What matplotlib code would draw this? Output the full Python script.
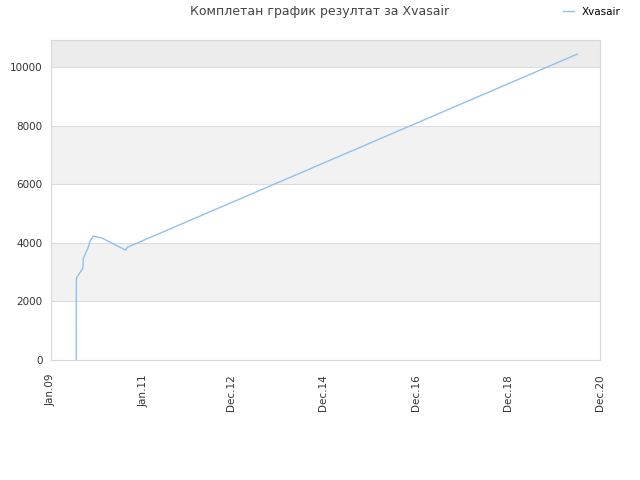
import matplotlib
matplotlib.use("Agg")
import matplotlib.pyplot as plt
import matplotlib.dates as mdates
import numpy as np
from datetime import datetime

# values
dates = [datetime(2009, 7, 20), datetime(2009, 7, 21), datetime(2009, 7, 22),
         datetime(2009, 9, 10), datetime(2009, 9, 14), datetime(2009, 10, 20),
         datetime(2009, 11, 5), datetime(2009, 12, 1), datetime(2010, 2, 15),
         datetime(2010, 8, 15), datetime(2010, 8, 28), datetime(2020, 6, 5)]
scores = [0, 2650, 2800, 3130, 3470, 3810, 4040, 4230, 4150, 3750, 3845, 10440]
tick_dates = [datetime(2009, 1, 1), datetime(2011, 1, 1), datetime(2012, 12, 1),
              datetime(2014, 12, 1), datetime(2016, 12, 1), datetime(2018, 12, 1),
              datetime(2020, 12, 1)]
tick_labels = ["Jan.09", "Jan.11", "Dec.12", "Dec.14", "Dec.16", "Dec.18", "Dec.20"]
y_ticks = [0, 2000, 4000, 6000, 8000, 10000]

fig = plt.figure(figsize=(6.4, 4.8), dpi=100)
ax = fig.add_axes([0.0797, 0.25, 0.8578, 0.6667])

ymax = 10920
# alternating bands
bands = y_ticks + [ymax]
for i in range(len(bands) - 1):
    if i % 2 == 1:
        col = "#ececec" if bands[i + 1] == ymax else "#f2f2f2"
        ax.axhspan(bands[i], bands[i + 1], color=col, zorder=0, lw=0)
for yv in y_ticks[1:]:
    ax.axhline(yv, color="#dddddd", lw=0.8, zorder=1)

ax.plot(dates, scores, color="#8ec1f0", lw=1.0, zorder=3, label="Xvasair")

ax.set_xlim(tick_dates[0], tick_dates[-1])
ax.set_ylim(0, ymax)
ax.set_xticks(tick_dates)
ax.set_xticklabels(tick_labels, rotation=90, fontsize=7.5, color="#333333")
ax.set_yticks(y_ticks)
ax.set_yticklabels([str(v) for v in y_ticks], fontsize=7.5, color="#333333")
ax.tick_params(axis="y", length=0, pad=6)
ax.tick_params(axis="x", length=0, pad=10)
for s in ax.spines.values():
    s.set_color("#d8d8d8")
    s.set_linewidth(0.8)

fig.text(0.5, 0.975, "Комплетан график резултат за Xvasair", ha="center", va="center",
         fontsize=9, color="#444444")
leg = fig.legend(loc="upper right", bbox_to_anchor=(0.985, 1.005), frameon=False,
                 fontsize=7.5, handlelength=1.0, handletextpad=0.8)

fig.savefig("out.png", dpi=100)
